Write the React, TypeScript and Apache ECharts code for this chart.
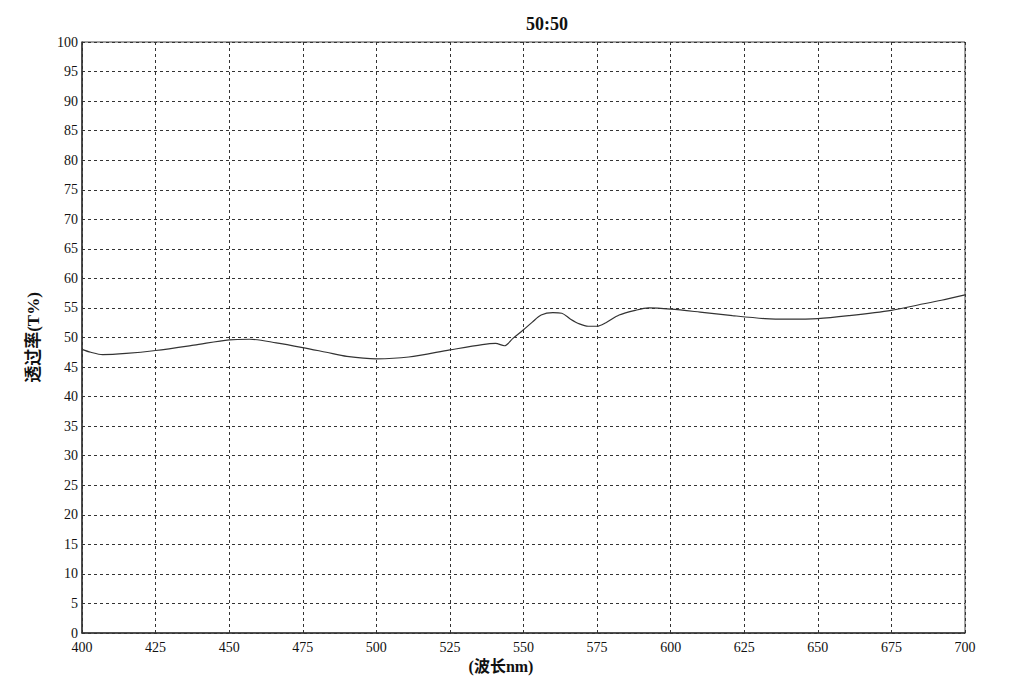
import React, { useEffect, useRef } from "react";
import * as echarts from "echarts";

const wavelengths = [400, 403, 407, 415, 425, 438, 450, 457, 466, 475, 483, 490, 500, 511, 525, 536, 540.5, 543.5, 546.5, 550, 553, 556, 560, 563, 566, 569, 572, 575, 578, 582.5, 588, 592.5, 600, 610, 621, 632, 640, 650, 660.5, 675, 684, 692, 700];
const transmittance = [48.0, 47.5, 47.1, 47.3, 47.8, 48.7, 49.6, 49.7, 49.1, 48.3, 47.5, 46.8, 46.4, 46.7, 47.9, 48.8, 49.0, 48.6, 49.9, 51.3, 52.6, 53.8, 54.2, 54.1, 53.1, 52.3, 51.9, 51.9, 52.5, 53.8, 54.6, 55.0, 54.8, 54.3, 53.7, 53.2, 53.1, 53.2, 53.7, 54.6, 55.5, 56.3, 57.2];

const titleText = "50:50";
const xName = "(波长nm)";
const yName = "透过率(T%)";

export default function App() {
  const ref = useRef<HTMLDivElement>(null);
  useEffect(() => {
    if (!ref.current) return;
    const chart = echarts.init(ref.current, null, { renderer: "svg" });
    const serif = "'Liberation Serif', 'Times New Roman', serif";
    const mixed = "'Liberation Serif', 'Noto Sans CJK SC', serif";
    const gridLine = { show: true, lineStyle: { color: "#333", width: 1, type: [3, 3] as any } };
    chart.setOption({
      animation: false,
      backgroundColor: "#fff",
      title: {
        text: titleText,
        left: 542,
        top: 10,
        textAlign: "center",
        textStyle: { fontFamily: serif, fontSize: 18, fontWeight: "bold", color: "#111" },
      },
      grid: { left: 82, right: 59, top: 42, bottom: 51, show: true, borderColor: "#444", borderWidth: 1, backgroundColor: "transparent" },
      xAxis: {
        type: "value",
        min: 400,
        max: 700,
        interval: 25,
        name: xName,
        nameLocation: "middle",
        nameGap: 20,
        nameTextStyle: { fontFamily: mixed, fontSize: 16, fontWeight: "bold", color: "#111", padding: [0, 0, 0, -45] },
        axisLine: { show: true, lineStyle: { color: "#333", width: 1.5 } },
        axisTick: { show: false },
        axisLabel: { fontFamily: serif, fontSize: 14, color: "#111", margin: 7 },
        splitLine: gridLine,
      },
      yAxis: {
        type: "value",
        min: 0,
        max: 100,
        interval: 5,
        name: yName,
        nameLocation: "middle",
        nameGap: 40,
        nameTextStyle: { fontFamily: mixed, fontSize: 17, fontWeight: "bold", color: "#111" },
        axisLine: { show: true, lineStyle: { color: "#333", width: 1.5 } },
        axisTick: { show: false },
        axisLabel: { fontFamily: serif, fontSize: 14, color: "#111", margin: 4 },
        splitLine: gridLine,
      },
      series: [
        {
          type: "line",
          data: wavelengths.map((w, i) => [w, transmittance[i]]),
          showSymbol: false,
          smooth: 0.3,
          lineStyle: { color: "#333", width: 1.2 },
        },
      ],
    });
    return () => chart.dispose();
  }, []);
  return <div ref={ref} style={{ position: "fixed", left: 0, top: 0, width: 1024, height: 684, background: "#fff" }} />;
}
